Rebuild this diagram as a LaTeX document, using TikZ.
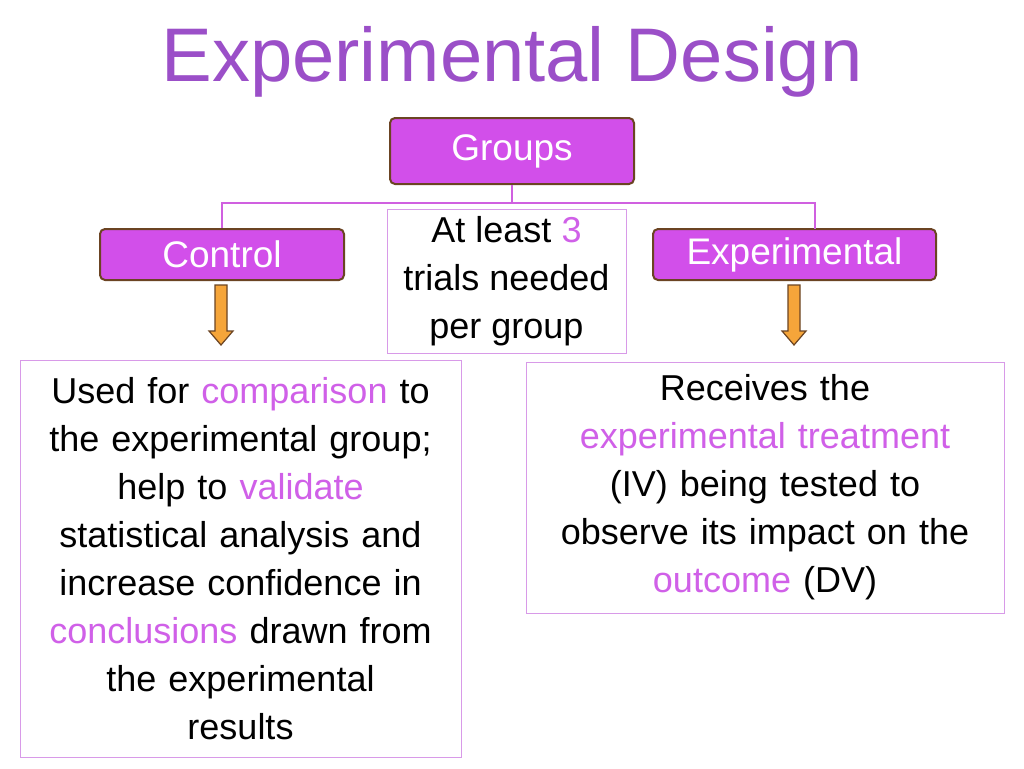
\documentclass[tikz,border=0pt]{standalone}
\usepackage{fontspec}
\setmainfont{Liberation Sans}
\definecolor{ttl}{HTML}{9B4FC8}
\definecolor{boxf}{HTML}{D24FEA}
\definecolor{brn}{HTML}{6B4423}
\definecolor{lnk}{HTML}{D060E0}
\definecolor{hl}{HTML}{D060E8}
\definecolor{frm}{HTML}{D89AE8}
\definecolor{org}{HTML}{F5A53A}
\begin{document}
\begin{tikzpicture}[x=1pt,y=-1pt,
 gbox/.style={draw=brn,line width=2pt,fill=boxf,rounded corners=5pt,text=white,font=\fontsize{37}{40}\selectfont,inner sep=0pt},
 tbox/.style={draw=frm,line width=1pt,align=center,font=\fontsize{36}{48}\selectfont,inner sep=0pt},
 arr/.style={draw=brn,fill=org,line width=1.2pt,line join=miter},
 link/.style={draw=lnk,line width=2.5pt}]
\useasboundingbox (0,0) rectangle (1024,768);
\fill[white] (0,0) rectangle (1024,768);
\node[text=ttl,font=\fontsize{76}{80}\selectfont] (title) at (512,62) {Experimental Design};
\node[gbox,minimum width=244pt,minimum height=66pt] (groups) at (512,151) {Groups};
\node[gbox,minimum width=244pt,minimum height=51pt] (control) at (222,254.5) {Control};
\node[gbox,minimum width=283pt,minimum height=51pt] (exp) at (794.5,254.5) {Experimental};
\node[tbox,minimum width=239pt,minimum height=144pt] (mid) at (506.5,281) {At least \textcolor{hl}{3}\\trials needed\\per group};
\coordinate (j) at (512,203);
\coordinate (jl) at (222,203);
\coordinate (jr) at (815,203);
\draw[link] (groups.south) -- (j);
\draw[link] (control.north) -- (jl) -- (jr) -- (815,229);
\draw[arr] (215,285) -- (227,285) -- (227,331) -- (233,331) -- (221,345) -- (209,331) -- (215,331) -- cycle;
\draw[arr] (788,285) -- (800,285) -- (800,331) -- (806,331) -- (794,345) -- (782,331) -- (788,331) -- cycle;
\node[tbox,minimum width=441pt,minimum height=397pt,text width=435pt] (left) at (240.5,558.5) {Used for \textcolor{hl}{comparison} to\\the experimental group;\\help to \textcolor{hl}{validate}\\statistical analysis and\\increase confidence in\\\textcolor{hl}{conclusions} drawn from\\the experimental\\results};
\node[tbox,minimum width=478pt,minimum height=251pt,text width=470pt] (right) at (765,487.5) {Receives the\\\textcolor{hl}{experimental treatment}\\(IV) being tested to\\observe its impact on the\\\textcolor{hl}{outcome} (DV)};
\end{tikzpicture}
\end{document}
